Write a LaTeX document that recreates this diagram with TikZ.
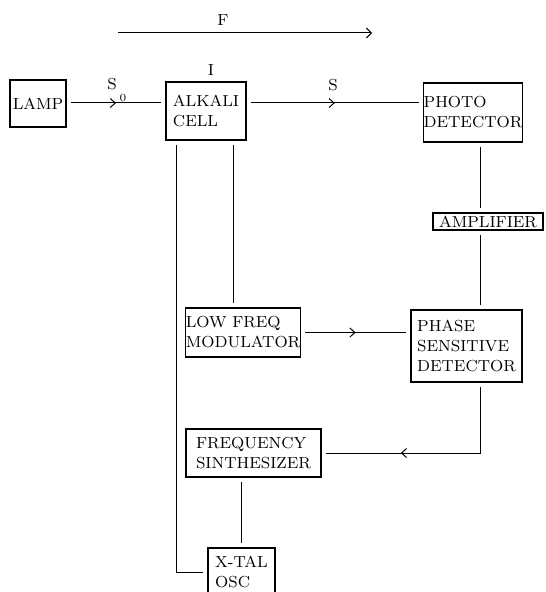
\documentclass[tikz,border=0pt]{standalone}
\usetikzlibrary{arrows.meta,decorations.markings}
\begin{document}
\begin{tikzpicture}[x=0.5pt,y=-0.5pt,
  box/.style={draw, line width=0.7pt, align=left, inner sep=0pt, outer sep=2.5pt, font=\fontsize{8}{10}\selectfont},
  wire/.style={line width=0.5pt},
  chev/.style={decoration={markings, mark=at position #1 with {\arrow{Straight Barb[length=2.5pt,width=4.5pt,line width=0.5pt]}}}, postaction={decorate}},
  lbl/.style={font=\fontsize{8}{10}\selectfont, inner sep=0pt}]
  \useasboundingbox (0,0) rectangle (545,592);
  \node[box, minimum width=28pt, minimum height=23.5pt] (lamp) at (38,103.5) {LAMP};
  \node[box, minimum width=40pt, minimum height=29pt] (cell) at (206,111) {ALKALI\\CELL};
  \node[box, minimum width=49pt, minimum height=29.5pt] (photo) at (473,112.5) {PHOTO\\DETECTOR};
  \node[box, minimum width=55pt, minimum height=8.5pt] (amp) at (488,221.5) {AMPLIFIER};
  \node[box, minimum width=55.5pt, minimum height=36pt] (psd) at (466.5,346) {PHASE\\SENSITIVE\\DETECTOR};
  \node[box, minimum width=56pt, minimum height=24.5pt] (lfm) at (243,332.5) {LOW FREQ\\MODULATOR};
  \node[box, minimum width=67.5pt, minimum height=24pt] (synth) at (253.5,453) {FREQUENCY\\SINTHESIZER};
  \node[box, minimum width=33.5pt, minimum height=24pt] (xtal) at (241.5,572) {X-TAL\\OSC};
  \node[lbl] (F) at (223,20) {F};
  \node[lbl] (S0) at (112,84) {S};
  \node[lbl, font=\fontsize{5.5}{6}\selectfont] (zero) at (123,98) {0};
  \node[lbl] (S1) at (333,85) {S};
  \node[lbl] (I) at (211,70) {I};
  \coordinate (Fs) at (118,33);
  \coordinate (Fe) at (372,33);
  \coordinate (row) at (0,103);
  \coordinate (col) at (480,0);
  \coordinate (tap) at (233,0);
  \coordinate (rail) at (176,0);
  \draw[wire, -{Straight Barb[length=2.5pt,width=5pt,line width=0.5pt]}] (Fs) -- (Fe);
  \draw[wire, chev=0.5] (lamp.east |- row) -- (cell.west |- row);
  \draw[wire, chev=0.5] (cell.east |- row) -- (photo.west |- row);
  \draw[wire] (photo.south -| col) -- (amp.north -| col);
  \draw[wire] (amp.south -| col) -- (psd.north -| col);
  \draw[wire, chev=0.5] (lfm.east) -- (lfm.east -| psd.west);
  \draw[wire, chev=0.66] (psd.south -| col) |- (synth.east);
  \draw[wire] (cell.south -| tap) -- (lfm.north -| tap);
  \draw[wire] (cell.south -| rail) |- (xtal.west);
  \draw[wire] (synth.south -| xtal.north) -- (xtal.north);
\end{tikzpicture}
\end{document}
